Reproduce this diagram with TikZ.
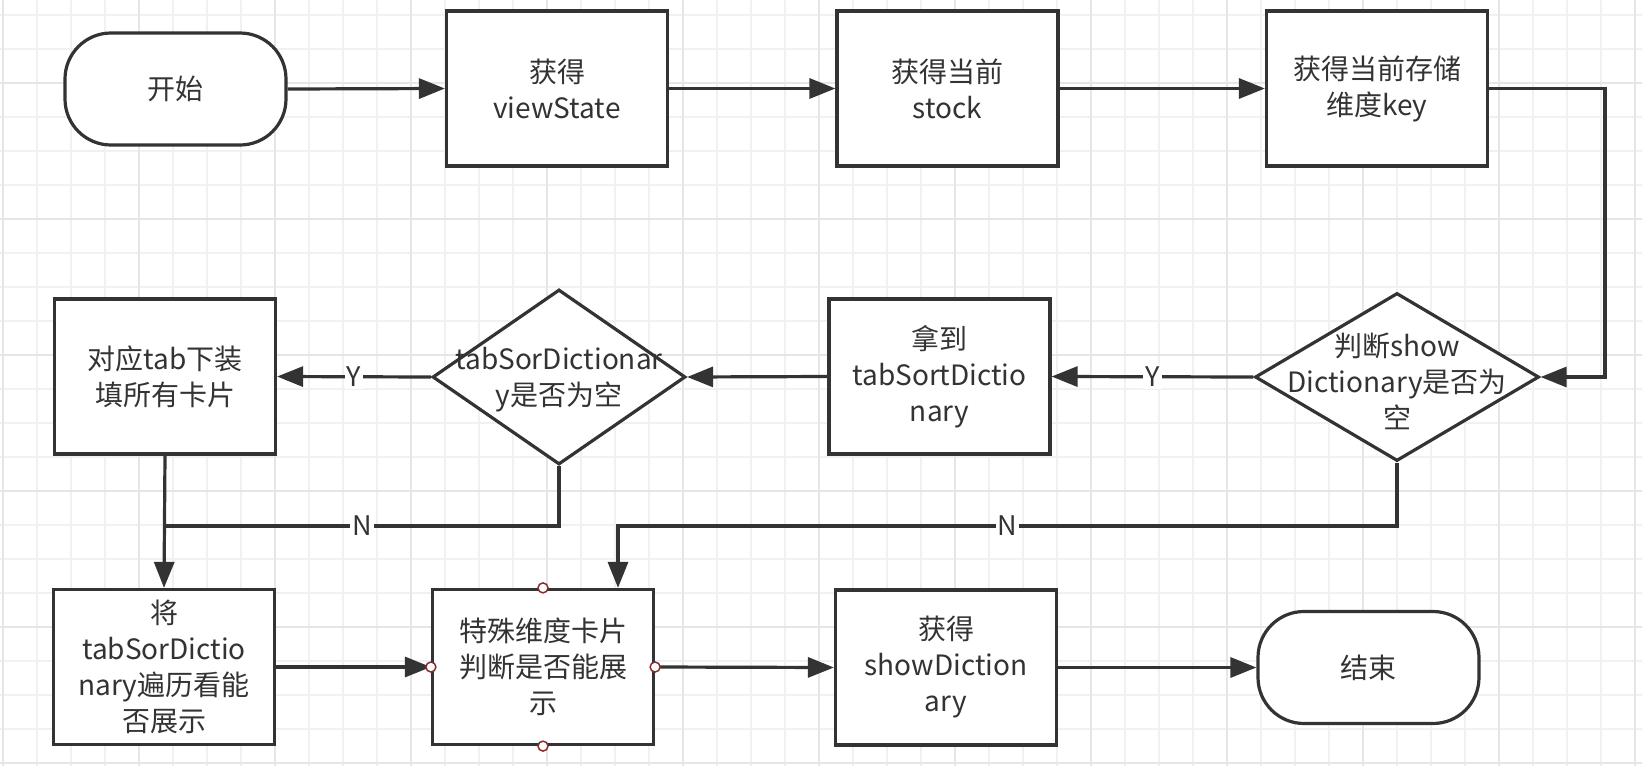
\documentclass[tikz,border=0pt]{standalone}
\usepackage{fontspec}
\setmainfont{Noto Sans CJK SC}
\usetikzlibrary{arrows.meta,shapes.geometric,calc}
\definecolor{ink}{HTML}{333333}
\definecolor{gridminor}{HTML}{F1F1F1}
\definecolor{gridmajor}{HTML}{E6E6E6}
\definecolor{portred}{HTML}{8B2E2E}
\begin{document}
\begin{tikzpicture}[x=1pt,y=-1pt,
  box/.style={draw=ink,line width=3.2pt,fill=white,minimum width=221pt,minimum height=155pt,
    inner sep=0pt,align=center,text=ink,font=\fontsize{28}{36}\selectfont},
  term/.style={box,minimum height=112pt,rounded corners=46pt},
  dia/.style={draw=ink,line width=3.2pt,fill=white,diamond,inner sep=0pt},
  txt/.style={inner sep=0pt,align=center,text=ink,font=\fontsize{28}{36}\selectfont},
  ln/.style={draw=ink,line width=3.2pt},
  arr/.style={ln,-{Triangle[length=26pt,width=20pt]}},
  lab/.style={fill=white,inner sep=2pt,text=ink,font=\fontsize{27}{30}\selectfont},
  port/.style={draw=portred,fill=white,line width=1.5pt}]
\useasboundingbox (0,0) rectangle (1642,766);
\fill[white] (0,0) rectangle (1642,766);
% grid
\foreach \k in {0,...,48} {\draw[gridminor,line width=1.5pt] ({3.1+34*\k},0) -- ++(0,766);}
\foreach \k in {0,...,22} {\draw[gridminor,line width=1.5pt] (0,{15+34*\k}) -- ++(1642,0);}
\foreach \k in {0,...,12} {\draw[gridmajor,line width=1.8pt] ({3.1+136*\k},0) -- ++(0,766);}
\foreach \k in {0,...,5} {\draw[gridmajor,line width=1.8pt] (0,{83+136*\k}) -- ++(1642,0);}
% nodes
\node[term] (start) at (175.5,89) {开始};
\node[box] (vs) at (557,88.5) {获得\\viewState};
\node[box] (stock) at (947.5,88.5) {获得当前\\stock};
\node[box] (key) at (1377,88.5) {获得当前存储\\维度key};
\node[dia,minimum width=284pt,minimum height=168pt] (dR) at (1397,377) {};
\node[txt] (dRt) at (1397,381) {判断show\\Dictionary是否为\\空};
\node[box] (tsd) at (939.5,376.5) {拿到\\tabSortDictio\\nary};
\node[dia,minimum width=253pt,minimum height=175pt] (dL) at (559,377) {};
\node[txt] (dLt) at (559,380) {tabSorDictionar\\y是否为空};
\node[box] (fill) at (165,376.5) {对应tab下装\\填所有卡片};
\node[box] (trav) at (164,667) {将\\tabSorDictio\\nary遍历看能\\否展示};
\node[box] (spec) at (543,667) {特殊维度卡片\\判断是否能展\\示};
\node[box] (sd) at (946,667.5) {获得\\showDiction\\ary};
\node[term] (end) at (1368.5,667.5) {结束};
\coordinate (kr) at (1605,88.5);
\coordinate (jL) at (165,526);
\coordinate (jR) at (618,526);
% connectors
\draw[arr] (start.east) -- (vs.west);
\draw[arr] (vs.east) -- (stock.west);
\draw[arr] (stock.east) -- (key.west);
\draw[arr] (key.east) -- (kr) |- (dR.east);
\draw[arr] (dR.west) -- node[lab]{Y} (tsd.east);
\draw[arr] (tsd.west) -- (dL.east);
\draw[arr] (dL.west) -- node[lab]{Y} (fill.east);
\draw[ln] (dL.south) |- node[lab,pos=0.75]{N} (jL);
\draw[arr] (fill.south) -- (trav.north);
\draw[arr] (dR.south) |- node[lab,pos=0.75]{N} (jR) -- (spec.north -| jR);
\draw[arr] (trav.east) -- (spec.west);
\draw[arr] (spec.east) -- (sd.west);
\draw[arr] (sd.east) -- (end.west);
\foreach \a in {north,south,east,west} {\draw[port] (spec.\a) circle (5pt);}
\end{tikzpicture}
\end{document}
